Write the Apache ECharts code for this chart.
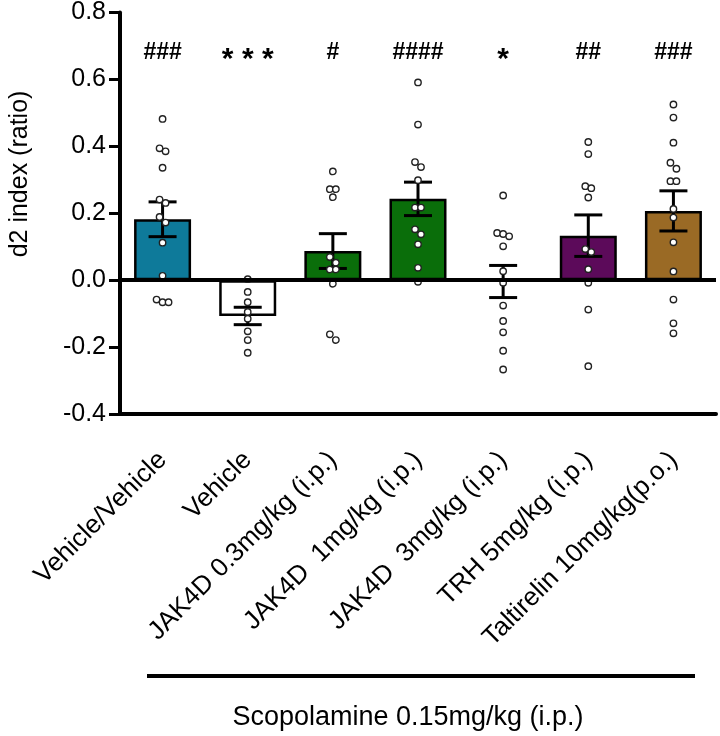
<!DOCTYPE html>
<html>
<head>
<meta charset="utf-8">
<script src="https://cdn.jsdelivr.net/npm/echarts@6/dist/echarts.min.js"></script>
<style>
  html, body { margin: 0; padding: 0; background: #fff; }
  #chart { width: 720px; height: 736px; }
</style>
</head>
<body>
<div id="chart"></div>
<script>
// groups on the x axis
const categories = [
  'Vehicle/Vehicle',
  'Vehicle',
  'JAK4D 0.3mg/kg (i.p.)',
  'JAK4D  1mg/kg (i.p.)',
  'JAK4D  3mg/kg (i.p.)',
  'TRH 5mg/kg (i.p.)',
  'Taltirelin 10mg/kg(p.o.)'
];
const means = [0.182, -0.107, 0.087, 0.243, -0.004, 0.133, 0.207];
const sems = [0.052, 0.026, 0.052, 0.050, 0.048, 0.062, 0.060];
const signif = ['###', '***', '#', '####', '*', '##', '###'];
const barColors = ['#0e7a9a', '#ffffff', '#0a6e0a', '#0a6e0a', '#ffffff', '#5c0a5a', '#9a6a25'];

// individual animals, one list per group
const ptsVehVeh = [0.482, 0.394, 0.385, 0.336, 0.241, 0.231, 0.189, 0.172, 0.112, 0.013, -0.058, -0.066, -0.066];
const ptsVeh = [0.003, -0.035, -0.066, -0.095, -0.115, -0.153, -0.179, -0.217];
const ptsJak03 = [0.325, 0.272, 0.272, 0.248, 0.069, 0.052, 0.032, 0.032, -0.011, -0.162, -0.179];
const ptsJak1 = [0.591, 0.465, 0.353, 0.338, 0.299, 0.217, 0.217, 0.152, 0.137, 0.107, 0.037, -0.005];
const ptsJak3 = [0.253, 0.141, 0.138, 0.131, 0.101, 0.027, -0.008, -0.076, -0.122, -0.156, -0.211, -0.267];
const ptsTrh = [0.413, 0.377, 0.281, 0.275, 0.247, 0.093, 0.084, 0.033, -0.008, -0.088, -0.257];
const ptsTal = [0.525, 0.486, 0.411, 0.351, 0.333, 0.296, 0.296, 0.213, 0.187, 0.113, 0.026, -0.058, -0.129, -0.159];
const points = [ptsVehVeh, ptsVeh, ptsJak03, ptsJak1, ptsJak3, ptsTrh, ptsTal];

const yTicks = { min: -0.4, max: 0.8, step: 0.2 };
const axisTitle = 'd2 index (ratio)';
const groupTitle = 'Scopolamine 0.15mg/kg (i.p.)';

const FONT = '"Liberation Sans", Arial, sans-serif';

// spread out dots that would overlap (simple column scatter)
function spreadDots(vals, gi) {
  const sorted = vals.slice().sort((a, b) => b - a);
  const out = [];
  let cluster = [sorted[0]];
  const flush = () => {
    const n = cluster.length;
    cluster.forEach((v, k) => out.push([gi, v, (k - (n - 1) / 2)]));
  };
  for (let i = 1; i < sorted.length; i++) {
    if (cluster[cluster.length - 1] - sorted[i] < 0.018) {
      cluster.push(sorted[i]);
    } else {
      flush();
      cluster = [sorted[i]];
    }
  }
  flush();
  return out;
}

let dotData = [];
points.forEach((g, i) => { dotData = dotData.concat(spreadDots(g, i)); });

const chart = echarts.init(document.getElementById('chart'));

chart.setOption({
  animation: false,
  textStyle: { fontFamily: FONT },
  grid: { left: 120, right: 4, top: 12, bottom: 322, containLabel: false },
  xAxis: {
    type: 'category',
    data: categories,
    axisLine: { onZero: false, lineStyle: { color: '#000', width: 4 } },
    axisTick: { show: false },
    axisLabel: {
      rotate: 45,
      interval: 0,
      margin: 42,
      color: '#000',
      fontSize: 26,
      fontFamily: FONT
    },
    splitLine: { show: false }
  },
  yAxis: {
    type: 'value',
    min: yTicks.min,
    max: yTicks.max,
    interval: yTicks.step,
    axisLine: { show: true, lineStyle: { color: '#000', width: 4 } },
    axisTick: { show: true, length: 11, lineStyle: { color: '#000', width: 3 } },
    axisLabel: {
      color: '#000',
      fontSize: 25,
      margin: 14,
      fontFamily: FONT,
      formatter: v => v.toFixed(1)
    },
    splitLine: { show: false }
  },
  series: [
    {
      type: 'bar',
      barWidth: 57,
      data: means.map((m, i) => ({
        value: m,
        itemStyle: { color: barColors[i], borderColor: '#000', borderWidth: 2.5 }
      })),
      markLine: {
        silent: true,
        symbol: 'none',
        label: { show: false },
        lineStyle: { color: '#000', width: 4, type: 'solid' },
        data: [{ yAxis: 0 }]
      },
      z: 2
    },
    {
      // SEM error bars
      type: 'custom',
      z: 3,
      data: means.map((m, i) => [i, m, sems[i]]),
      renderItem: function (params, api) {
        const i = api.value(0);
        const m = api.value(1);
        const s = api.value(2);
        const top = api.coord([i, m + s]);
        const bot = api.coord([i, m - s]);
        const half = 14;
        const st = { stroke: '#000', lineWidth: 3 };
        return {
          type: 'group',
          children: [
            { type: 'line', shape: { x1: top[0], y1: top[1], x2: bot[0], y2: bot[1] }, style: st },
            { type: 'line', shape: { x1: top[0] - half, y1: top[1], x2: top[0] + half, y2: top[1] }, style: st },
            { type: 'line', shape: { x1: bot[0] - half, y1: bot[1], x2: bot[0] + half, y2: bot[1] }, style: st }
          ]
        };
      }
    },
    {
      // individual data points
      type: 'custom',
      z: 4,
      data: dotData,
      renderItem: function (params, api) {
        const c = api.coord([api.value(0), api.value(1)]);
        return {
          type: 'circle',
          shape: { cx: c[0] + api.value(2) * 6, cy: c[1], r: 3.2 },
          style: { fill: '#fff', stroke: '#222', lineWidth: 1.4 }
        };
      }
    },
    {
      // significance marks above each group
      type: 'custom',
      z: 5,
      data: signif.map((s, i) => [i, 0.68]),
      renderItem: function (params, api) {
        const c = api.coord([api.value(0), api.value(1)]);
        const txt = signif[params.dataIndex];
        const star = txt.indexOf('*') >= 0;
        return {
          type: 'text',
          style: {
            text: star ? txt.split('').join(' ') : txt,
            x: c[0],
            y: c[1] + (star ? 7 : 0),
            align: 'center',
            verticalAlign: 'middle',
            fontSize: star ? 30 : 23,
            fontWeight: 'bold',
            fontFamily: FONT,
            fill: '#000'
          }
        };
      }
    }
  ],
  graphic: [
    {
      type: 'text',
      rotation: Math.PI / 2,
      x: 8,
      y: 174,
      style: {
        text: axisTitle,
        fontSize: 25,
        fontFamily: FONT,
        fill: '#000',
        align: 'center',
        verticalAlign: 'top'
      }
    },
    {
      type: 'line',
      shape: { x1: 147, y1: 676, x2: 695, y2: 676 },
      style: { stroke: '#000', lineWidth: 4 }
    },
    {
      type: 'text',
      x: 408,
      y: 718,
      style: {
        text: groupTitle,
        fontSize: 27,
        fontFamily: FONT,
        fill: '#000',
        align: 'center',
        verticalAlign: 'middle'
      }
    }
  ]
});
</script>
</body>
</html>
